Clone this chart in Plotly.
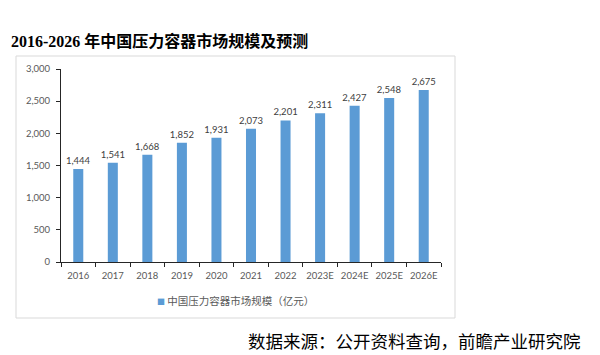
import plotly.graph_objects as go

categories = ["2016", "2017", "2018", "2019", "2020", "2021", "2022", "2023E", "2024E", "2025E", "2026E"]
values = [1444, 1541, 1668, 1852, 1931, 2073, 2201, 2311, 2427, 2548, 2675]
series_name = "中国压力容器市场规模（亿元）"
title_text = "2016-2026 年中国压力容器市场规模及预测"
source_text = "数据来源：公开资料查询，前瞻产业研究院"

# the page body has an 8px default margin; shrink figure and shift coordinates
OFF = 8
W, H = 600 - OFF, 355 - OFF
PLOT_L, PLOT_R, PLOT_T, PLOT_B = 61, 441, 69, 262  # target window pixels
ML, MT = PLOT_L - OFF, PLOT_T - OFF
MR, MB = W - (PLOT_R - OFF), H - (PLOT_B - OFF)
PW, PH = W - ML - MR, H - MT - MB

def px_x(p):
    return (p - OFF - ML) / PW

def px_y(p):
    return (H - MB - (p - OFF)) / PH

bar_color = "#5B9BD5"
tick_font = dict(family="Lato, Open Sans, sans-serif", size=9.5, color="#595959")

fig = go.Figure()
fig.add_trace(go.Bar(
    x=categories, y=values, name=series_name,
    marker=dict(color=bar_color, line=dict(width=0)),
    text=[f"{v:,}" for v in values],
    textposition="outside",
    constraintext="none",
    textfont=dict(family="Lato, Open Sans, sans-serif", size=9.5, color="#404040"),
    cliponaxis=False,
    showlegend=False,
))

fig.update_layout(
    width=W, height=H,
    margin=dict(l=ML, r=MR, t=MT, b=MB, autoexpand=False),
    paper_bgcolor="white", plot_bgcolor="white",
    bargap=0.71,
    xaxis=dict(
        type="category", showgrid=False, showline=True, linecolor="#262626", linewidth=1,
        ticks="outside", tickson="boundaries", ticklen=4, tickcolor="#262626",
        ticklabelstandoff=5,
        tickfont=tick_font, tickangle=0, automargin=False, fixedrange=True,
    ),
    yaxis=dict(
        range=[0, 3000], dtick=500, tickformat=",", showgrid=False, zeroline=False,
        showline=True, linecolor="#262626", linewidth=1,
        ticks="outside", ticklen=4, tickcolor="#262626",
        ticklabelstandoff=4,
        tickfont=tick_font, automargin=False, fixedrange=True,
    ),
    shapes=[dict(
        type="rect", xref="paper", yref="paper",
        x0=px_x(16), x1=px_x(455), y0=px_y(318), y1=px_y(56),
        line=dict(color="#D9D9D9", width=1), fillcolor="rgba(0,0,0,0)", layer="below",
    )],
    annotations=[
        dict(text="<b>" + title_text + "</b>", xref="paper", yref="paper",
             x=px_x(9), y=px_y(41), xanchor="left", yanchor="middle", showarrow=False,
             font=dict(family="Liberation Serif, Noto Sans CJK SC, serif", size=16, color="#000000")),
        dict(text=f"<span style='color:{bar_color};font-size:8px'>■</span> " + series_name,
             xref="paper", yref="paper",
             x=px_x(155), y=px_y(300), xanchor="left", yanchor="middle", showarrow=False,
             font=dict(family="Noto Sans CJK SC, sans-serif", size=10.5, color="#595959")),
        dict(text=source_text, xref="paper", yref="paper",
             x=px_x(583), y=px_y(340), xanchor="right", yanchor="middle", showarrow=False,
             font=dict(family="Noto Sans CJK SC, sans-serif", size=17.5, color="#000000")),
    ],
)

fig.write_html("out.html")
